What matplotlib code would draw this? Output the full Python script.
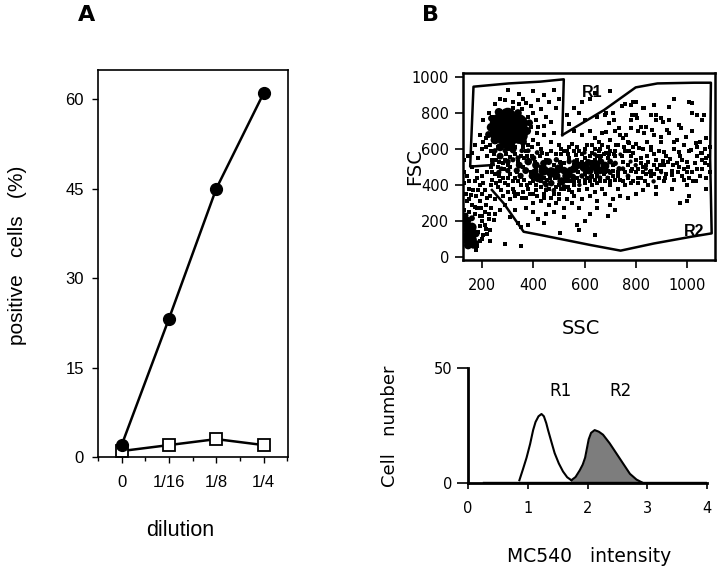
import matplotlib
matplotlib.use("Agg")
import matplotlib.pyplot as plt

plt.rcParams["font.family"] = ["Liberation Sans", "DejaVu Sans"]

W, H = 720, 571

# panel A
dilutions = ["0", "1/16", "1/8", "1/4"]
treated = [2, 23.2, 45, 61]
control = [1, 2, 3, 2]
a_yticks = [0, 15, 30, 45, 60]
a_minor = [0.5, 1.5, 2.5, 3.5, -0.5]

# panel B top, gates
r1_x = [245, 153, 166, 303, 427, 519, 513]
r1_y = [511, 502, 946, 964, 974, 987, 677]
r2_x = [513, 676, 800, 885, 1029, 1094, 1091, 1097, 1016, 872, 741, 624, 428, 362, 284, 238]
r2_y = [677, 816, 942, 964, 968, 968, 548, 131, 112, 75, 35, 66, 122, 140, 298, 372]

# dense parts of the cytogram (x, y, marker area)
blobs = [
    (305, 715, 560), (270, 690, 220), (265, 745, 170), (340, 740, 200), (300, 785, 130), (345, 675, 150),
    (300, 640, 130), (250, 650, 40), (235, 720, 40), (225, 680, 25), (375, 700, 35), (385, 745, 25),
    (340, 800, 30), (265, 805, 35), (235, 770, 20), (360, 640, 30), (270, 610, 35), (320, 600, 30),
    (150, 130, 60), (140, 100, 60), (160, 95, 50), (140, 165, 60), (160, 165, 45), (140, 200, 40),
    (165, 65, 25), (145, 65, 35), (175, 130, 30), (135, 230, 18), (160, 215, 18), (180, 80, 10),
    (500, 490, 40), (470, 470, 55), (530, 450, 40), (440, 480, 55), (420, 440, 45), (510, 420, 35),
    (560, 490, 35), (600, 500, 55), (640, 510, 65), (680, 505, 40), (620, 480, 35), (660, 480, 30),
    (380, 530, 30), (410, 510, 30), (345, 510, 25), (300, 480, 15), (270, 560, 25), (320, 590, 15),
    (395, 450, 25), (470, 410, 22), (720, 520, 15), (590, 450, 15), (540, 530, 15), (460, 530, 25),
    (380, 590, 12), (350, 450, 20), (320, 540, 14), (560, 530, 12), (700, 470, 15), (445, 410, 14),
    (770, 450, 12), (800, 510, 10), (870, 420, 10), (750, 490, 12), (490, 540, 15), (275, 490, 12),
    (440, 520, 25), (490, 450, 35), (555, 445, 20), (575, 510, 30), (615, 525, 25), (665, 530, 20),
    (700, 530, 18), (735, 490, 15), (405, 470, 30), (370, 480, 25), (335, 480, 20), (300, 530, 18),
    (340, 550, 14), (400, 550, 18), (430, 440, 25), (450, 400, 15), (520, 480, 30), (545, 480, 30),
    (240, 520, 12), (265, 470, 14), (250, 590, 14), (290, 590, 14), (355, 590, 12), (415, 580, 12),
    (625, 445, 14), (660, 440, 12), (690, 440, 10), (580, 400, 10), (520, 390, 14), (480, 370, 12),
    (840, 490, 9), (900, 470, 8), (780, 530, 9), (740, 570, 8), (640, 570, 10), (600, 580, 10),
]

# single dots of the cytogram
dots = [
    (300, 930), (345, 905), (400, 920), (360, 880), (250, 850), (270, 880), (290, 870), (320, 860),
    (345, 850), (370, 855), (390, 840), (420, 870), (440, 900), (480, 930), (460, 860), (500, 880),
    (490, 830), (430, 820), (400, 800), (450, 780), (410, 760), (470, 750), (420, 720), (480, 690),
    (440, 680), (400, 650), (390, 720), (380, 620), (420, 630), (470, 640), (500, 620), (530, 790),
    (560, 830), (590, 860), (620, 880), (640, 910), (580, 800), (540, 740), (600, 760), (620, 700),
    (650, 780), (680, 790), (710, 800), (760, 850), (790, 860), (800, 790), (830, 830), (860, 790),
    (880, 760), (900, 770), (930, 760), (950, 880), (1010, 860), (1040, 790), (1060, 760), (700, 920),
    (745, 840), (780, 760), (720, 700), (560, 700), (590, 680), (640, 660), (670, 690), (700, 650),
    (740, 680), (770, 640), (810, 700), (840, 720), (870, 680), (900, 640), (930, 690), (960, 650),
    (990, 620), (1020, 700), (1050, 640), (1070, 600), (1085, 560), (1040, 560), (1010, 590), (980, 540),
    (950, 600), (920, 560), (890, 590), (860, 610), (830, 600), (800, 630), (760, 590), (730, 620),
    (700, 590), (670, 620), (640, 600), (610, 620), (580, 590), (550, 630), (530, 590), (510, 570),
    (540, 550), (570, 540), (620, 560), (650, 560), (690, 550), (710, 510), (750, 530), (780, 560),
    (820, 550), (850, 530), (880, 540), (910, 510), (940, 480), (970, 500), (1000, 470), (1030, 520),
    (1060, 490), (1085, 510), (1050, 450), (1010, 440), (980, 450), (950, 430), (920, 460), (890, 440),
    (860, 480), (830, 500), (800, 470), (770, 440), (740, 430), (710, 450), (680, 420), (650, 410),
    (620, 420), (560, 400), (540, 370), (580, 370), (610, 380), (640, 360), (670, 380), (700, 400),
    (730, 380), (760, 400), (790, 420), (820, 440), (850, 400), (880, 390), (910, 420), (940, 380),
    (1000, 400), (1035, 420), (1075, 380), (1010, 340), (1000, 310), (975, 300), (880, 350), (830, 370),
    (800, 350), (770, 330), (740, 340), (710, 320), (680, 350), (650, 310), (620, 340), (590, 320),
    (560, 340), (530, 320), (500, 350), (470, 330), (440, 350), (410, 370), (380, 380), (350, 400),
    (320, 380), (290, 410), (260, 390), (240, 430), (220, 470), (200, 450), (180, 480), (160, 500),
    (140, 450), (130, 410), (170, 420), (150, 380), (190, 400), (210, 370), (230, 340), (250, 320),
    (280, 340), (310, 320), (340, 350), (370, 330), (400, 300), (430, 310), (460, 290), (490, 300),
    (520, 270), (550, 300), (580, 270), (620, 240), (650, 270), (700, 290), (720, 260), (690, 230),
    (600, 200), (570, 180), (520, 220), (480, 250), (450, 240), (420, 210), (400, 250), (370, 270),
    (330, 260), (310, 220), (290, 290), (270, 260), (340, 190), (350, 165), (440, 190), (380, 180),
    (580, 150), (505, 135), (640, 120), (350, 60), (290, 70), (220, 130), (230, 90), (210, 180),
    (200, 230), (180, 270), (160, 290), (140, 310), (190, 310), (215, 290), (235, 270), (250, 240),
    (220, 330), (200, 350), (175, 340), (195, 270), (225, 210), (205, 120), (245, 205), (180, 60),
    (300, 510), (330, 440), (290, 540), (350, 560), (410, 490), (450, 540), (480, 510), (520, 520),
    (260, 500), (240, 540), (220, 560), (250, 460), (280, 440), (320, 420), (360, 500), (390, 470),
    (430, 420), (460, 470), (490, 390), (510, 380), (430, 390), (400, 350), (360, 360), (330, 340),
    (285, 490), (310, 555), (370, 590), (435, 575), (470, 590), (505, 530), (590, 530), (610, 470),
    (660, 540), (690, 480), (730, 470), (770, 510), (810, 490), (840, 460), (870, 510), (900, 480),
    (600, 410), (630, 450), (570, 440), (550, 360), (480, 350), (450, 370), (420, 450), (560, 510),
    (215, 660), (205, 760), (225, 800), (190, 680), (230, 620), (200, 600), (260, 610), (185, 550),
    (160, 580), (170, 620), (145, 560), (130, 540),
    (800, 863), (780, 844), (833, 826), (872, 844), (931, 835), (1022, 798), (1068, 789), (1022, 853),
    (682, 798), (715, 761), (787, 789), (807, 770), (878, 789), (905, 752), (970, 733), (976, 715),
    (695, 742), (735, 715), (780, 715), (820, 724), (865, 705), (924, 705), (682, 696), (761, 678),
    (833, 687), (898, 668), (950, 640), (996, 668), (1035, 631), (1074, 659), (656, 640), (722, 622),
    (774, 631), (813, 603), (859, 594), (911, 585), (970, 585), (1016, 594), (1055, 576), (750, 660),
    (790, 610), (845, 640), (870, 570), (905, 535), (935, 545), (960, 520), (1000, 530), (1060, 540),
    (690, 610), (715, 570), (745, 560), (775, 590), (800, 540), (840, 510), (855, 470), (885, 490),
    (915, 440), (940, 455), (965, 470), (990, 430), (1020, 470), (1040, 490), (1070, 520), (1090, 470),
    (660, 440), (690, 440), (720, 430), (750, 420), (780, 410), (810, 440), (835, 420), (860, 450),
    (640, 430), (610, 440), (580, 420), (545, 420), (520, 380), (500, 320), (460, 380), (440, 330),
    (415, 340), (385, 350), (355, 330), (325, 360), (300, 360), (275, 370), (255, 410), (235, 400),
    (240, 470), (265, 450), (300, 440), (310, 460), (335, 470), (365, 430), (385, 410), (410, 400),
    (455, 430), (485, 440), (530, 420), (550, 450), (575, 470), (600, 460), (645, 470), (675, 460),
    (245, 570), (265, 530), (295, 570), (330, 570), (365, 550), (395, 560), (425, 560), (455, 570),
    (490, 570), (520, 590), (560, 590), (590, 570), (625, 530), (655, 590), (685, 580), (720, 560),
    (250, 640), (235, 590), (215, 610), (205, 640), (240, 780), (270, 810), (320, 830), (355, 820),
    (380, 780), (415, 690), (440, 730), (395, 610), (430, 600), (360, 610), (330, 610), (300, 600),
    (130, 260), (150, 250), (170, 240), (190, 230), (210, 250), (225, 240), (170, 280), (150, 320),
    (200, 200), (190, 170), (185, 140), (200, 100), (215, 155), (230, 150), (190, 90), (175, 40),
    (135, 350), (155, 345), (165, 370), (185, 370), (205, 410), (180, 440), (150, 420), (130, 470),
    (510, 600), (540, 610), (570, 610), (600, 600), (630, 620), (660, 600), (675, 570), (630, 580),
    (600, 550), (565, 565), (535, 570), (510, 510), (430, 500), (405, 530), (375, 560), (340, 530),
    (310, 500), (280, 520), (255, 540), (235, 500), (270, 420), (300, 400), (340, 420), (375, 400),
    (400, 420), (440, 440), (465, 440), (500, 400), (535, 390), (560, 420), (600, 430), (630, 400),
    (660, 420), (700, 420), (730, 450), (760, 470), (785, 490), (820, 520), (845, 560), (790, 580),
    (755, 610), (720, 590), (695, 570), (665, 560), (640, 540), (710, 480), (680, 470), (650, 450),
    (780, 480), (810, 410), (830, 470), (870, 460), (895, 510), (925, 530), (945, 510), (975, 560),
    (1005, 500), (1040, 610), (1060, 580), (1075, 550), (1090, 610), (1075, 440), (1025, 420), (990, 490),
]

dot_x = [p[0] for p in dots]
dot_y = [p[1] for p in dots]
blob_x = [p[0] for p in blobs]
blob_y = [p[1] for p in blobs]
blob_s = [p[2] for p in blobs]

# panel B bottom, histogram outlines
r1_hist_x = [0.86, 0.92, 0.98, 1.04, 1.09, 1.13, 1.18, 1.23, 1.27, 1.31, 1.34, 1.40, 1.45, 1.52, 1.59, 1.66, 1.73]
r1_hist_y = [1.2, 6, 11, 17, 23, 26.5, 29, 30, 29, 26, 23, 17.5, 13, 8.5, 5, 2.5, 1.2]
r2_hist_x = [1.73, 1.80, 1.87, 1.92, 1.96, 1.99, 2.02, 2.06, 2.12, 2.19, 2.26, 2.37, 2.48, 2.60, 2.71, 2.82, 2.93]
r2_hist_y = [1.2, 2.6, 5.5, 8, 11, 15, 19, 21.8, 23, 22.3, 21, 17.3, 13, 8.3, 4, 1.5, 0]
base_x = [0.25, 4]
base_y = [0.3, 0.3]

GENEVA = ["DejaVu Sans"]


def px_axes(fig, left, top, right, bottom):
    return fig.add_axes([left / W, 1 - bottom / H, (right - left) / W, (bottom - top) / H])


def label(fig, x, y, text, **kw):
    fig.text(x / W, 1 - y / H, text, ha="center", va="center", **kw)


fig = plt.figure(figsize=(7.2, 5.71), dpi=100)

ax = px_axes(fig, 98, 70, 288, 457)
ax.plot(range(4), control, color="black", lw=1.8, marker="s", ms=8.5, mfc="white", mec="black", mew=1.3, zorder=2)
ax.plot(range(4), treated, color="black", lw=1.8, marker="o", ms=8.5, mfc="black", mec="black", zorder=3)
ax.set_xlim(-0.484, 3.516)
ax.set_ylim(0, 64.9)
ax.set_xticks(range(4), dilutions)
ax.set_xticks(a_minor, minor=True)
ax.set_yticks(a_yticks)
ax.tick_params(labelsize=12, length=4, width=1, pad=6)
ax.tick_params(axis="x", pad=9)
ax.tick_params(which="minor", length=3, width=1)
for s in ax.spines.values():
    s.set_linewidth(1.2)

bx = px_axes(fig, 463, 73, 715, 260)
bx.scatter(blob_x, blob_y, s=blob_s, c="black", lw=0, zorder=2)
bx.scatter(dot_x, dot_y, s=7, c="black", marker="s", lw=0, zorder=2)
bx.plot(r1_x, r1_y, color="black", lw=1.8, zorder=3)
bx.plot(r2_x, r2_y, color="black", lw=1.8, zorder=3)
bx.text(631, 911, "R1", fontsize=11.5, fontweight="bold", ha="center", va="center", zorder=4)
bx.text(1027, 139, "R2", fontsize=11.5, fontweight="bold", ha="center", va="center", zorder=4)
bx.set_xlim(125, 1110)
bx.set_ylim(-17, 1022)
bx.set_xticks([200, 400, 600, 800, 1000])
bx.set_yticks([0, 200, 400, 600, 800, 1000])
bx.tick_params(labelsize=10.5, length=6, width=1.2, pad=4)
bx.tick_params(axis="x", pad=7)
for lab in bx.get_xticklabels() + bx.get_yticklabels():
    lab.set_family(GENEVA)
for s in bx.spines.values():
    s.set_linewidth(1.8)

cx = px_axes(fig, 468, 368, 707, 483)
cx.fill_between(r2_hist_x, r2_hist_y, 0, color="#7d7d7d", lw=0, zorder=1)
cx.plot(r1_hist_x, r1_hist_y, color="black", lw=1.5, zorder=2)
cx.plot(r2_hist_x, r2_hist_y, color="black", lw=1.5, zorder=2)
cx.plot(base_x, base_y, color="black", lw=1, zorder=2)
cx.text(1.55, 40, "R1", fontsize=12, family=GENEVA, ha="center", va="center")
cx.text(2.55, 40, "R2", fontsize=12, family=GENEVA, ha="center", va="center")
cx.set_xlim(0, 4)
cx.set_ylim(0, 50)
cx.set_xticks([0, 1, 2, 3, 4])
cx.set_yticks([0, 50])
cx.tick_params(labelsize=10.5, length=4, width=1.2, pad=9)
cx.tick_params(axis="y", length=8, pad=3)
for lab in cx.get_xticklabels() + cx.get_yticklabels():
    lab.set_family(GENEVA)
cx.spines["top"].set_visible(False)
cx.spines["right"].set_visible(False)
cx.spines["left"].set_linewidth(2)
cx.spines["bottom"].set_linewidth(2)

label(fig, 87, 15, "A", fontsize=16, fontweight="bold", family=GENEVA)
label(fig, 430, 15, "B", fontsize=16, fontweight="bold", family=GENEVA)
label(fig, 18, 255, "positive   cells   (%)", fontsize=15, rotation=90)
label(fig, 180, 531, "dilution", fontsize=15.5)
label(fig, 415, 167, "FSC", fontsize=14, rotation=90, family=GENEVA)
label(fig, 581, 328, "SSC", fontsize=14, family=GENEVA)
label(fig, 390, 426, "Cell   number", fontsize=13, rotation=90, family=GENEVA)
label(fig, 589, 556, "MC540   intensity", fontsize=13.5, family=GENEVA)

fig.savefig("out.png", dpi=100)
